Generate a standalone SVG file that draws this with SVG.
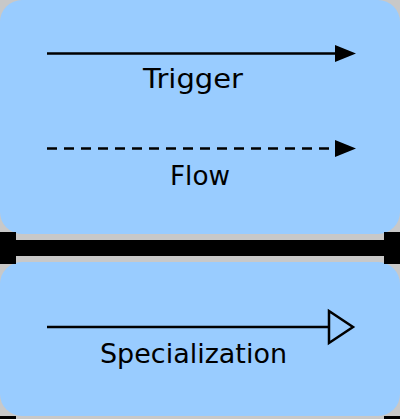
<svg xmlns="http://www.w3.org/2000/svg" width="400" height="419" viewBox="0 0 400 419">
  <defs>
    <style>
      .panel { fill: #99ccff; }
      .bar { fill: #000000; }
      .lbl { font-family: "DejaVu Sans", "Noto Sans", sans-serif; font-size: 26px; fill: #000000; }
      .ln { stroke: #000000; stroke-width: 2.5; fill: none; }
      .dash { stroke-dasharray: 10 7; }
      .head { fill: #000000; stroke: none; }
      .hollow { fill: #99ccff; stroke: #000000; stroke-width: 2.5; stroke-linejoin: miter; }
    </style>
  </defs>
  <rect x="0" y="0" width="400" height="419" fill="#c8c8c8"/>
  <g id="panel-top">
    <rect class="panel" x="0" y="0" width="400" height="234" rx="22" ry="22"/>
  </g>
  <g id="panel-bottom">
    <rect class="panel" x="0" y="262" width="400" height="154" rx="22" ry="22"/>
  </g>
  <g id="separator">
    <rect class="bar" x="0" y="240" width="400" height="16"/>
    <rect class="bar" x="0" y="232" width="16" height="32"/>
    <rect class="bar" x="384" y="232" width="16" height="32"/>
    <rect class="bar" x="0" y="416" width="16" height="8"/>
    <rect class="bar" x="384" y="416" width="16" height="8"/>
  </g>
  <g id="connectors">
    <g id="trigger">
      <line class="ln" x1="47" y1="53.5" x2="337" y2="53.5"/>
      <polygon class="head" points="335,45 356,53.5 335,62"/>
    </g>
    <g id="flow">
      <line class="ln dash" x1="47" y1="148.5" x2="337" y2="148.5"/>
      <polygon class="head" points="335,140 356,148.5 335,157"/>
    </g>
    <g id="specialization">
      <line class="ln" x1="47" y1="327" x2="329" y2="327"/>
      <polygon class="hollow" points="329,311 353,327 329,343"/>
    </g>
  </g>
  <g id="labels">
    <text class="lbl" x="143" y="88" textLength="100" lengthAdjust="spacingAndGlyphs">Trigger</text>
    <text class="lbl" x="170" y="185" textLength="60" lengthAdjust="spacingAndGlyphs">Flow</text>
    <text class="lbl" x="100" y="363" textLength="187" lengthAdjust="spacingAndGlyphs">Specialization</text>
  </g>
</svg>
